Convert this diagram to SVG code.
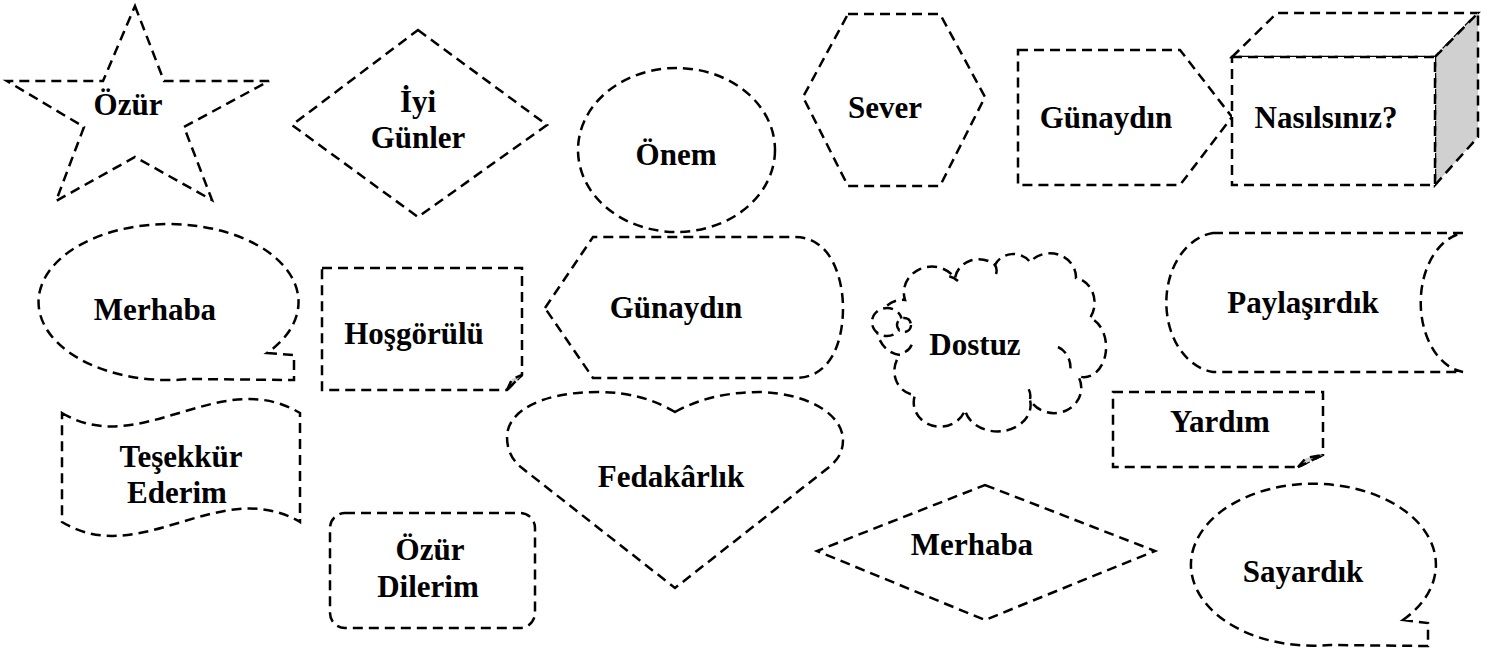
<svg xmlns="http://www.w3.org/2000/svg" width="1490" height="654" viewBox="0 0 1490 654">
<style>
.s{fill:#fff;stroke:#000;stroke-width:2.5;stroke-dasharray:10 6;stroke-linejoin:miter}
.n{fill:none;stroke:#000;stroke-width:2.5;stroke-dasharray:10 6}
.g{fill:#d0d0d0;stroke:#000;stroke-width:2.5;stroke-dasharray:10 6}
.t{font-family:"Liberation Serif","Times New Roman",serif;font-weight:bold;font-size:31px;fill:#000;text-anchor:middle}
</style>
<rect width="1490" height="654" fill="#fff"/>
<g id="connectors"></g>
<g id="n-ozur-star">
<polygon class="s" points="135,6 164,81 269,81 184,127 212,200 135,157 56,201 84,127 7,81 103,81"/>
<text class="t" x="128" y="115">Özür</text>
</g>
<g id="n-iyi-gunler">
<polygon class="s" points="418,30 547,125 418,217 292,125"/>
<text class="t" x="418" y="112">İyi</text>
<text class="t" x="418" y="148">Günler</text>
</g>
<g id="n-onem">
<ellipse class="s" cx="676.5" cy="150" rx="98.5" ry="82"/>
<text class="t" x="676" y="165">Önem</text>
</g>
<g id="n-sever">
<polygon class="s" points="848,14 940,14 985,97 940,186 848,186 803,97"/>
<text class="t" x="885" y="118">Sever</text>
</g>
<g id="n-gunaydin-1">
<polygon class="s" points="1018,50 1180,50 1232,117 1180,185 1018,185"/>
<text class="t" x="1106" y="128">Günaydın</text>
</g>
<g id="n-nasilsiniz">
<polygon class="s" points="1232,57 1277,13 1478,13 1435,57"/>
<polygon class="g" points="1435,57 1478,13 1478,137 1435,185"/>
<rect class="s" x="1232" y="57" width="203" height="128"/>
<text class="t" x="1326" y="128">Nasılsınız?</text>
</g>
<g id="n-merhaba-1">
<path class="s" d="M267 353 L294 355 L294 380 L190 379 A130 78 0 1 1 267 353 Z"/>
<text class="t" x="155" y="320">Merhaba</text>
</g>
<g id="n-hosgorulu">
<path class="s" d="M322 268 H522 V375 L507 390 H322 Z"/>
<polygon class="g" points="507,390 512,379 522,375"/>
<text class="t" x="414" y="344">Hoşgörülü</text>
</g>
<g id="n-gunaydin-2">
<path class="s" d="M545 308 L593 237 H795 C832 237 843 280 843 308 C843 340 832 378 795 378 H593 Z"/>
<text class="t" x="676" y="318">Günaydın</text>
</g>
<g id="n-dostuz">
<path class="s" d="M900 355 A24 26 0 0 1 905 300 A28 26 0 0 1 955 278 A24 22 0 0 1 995 265 A20 18 0 0 1 1030 262 A26 24 0 0 1 1076 278 A22 25 0 0 1 1090 318 A22 30 0 0 1 1078 376 A26 24 0 0 1 1030 400 A30 24 0 0 1 965 410 A26 24 0 0 1 915 395 A22 24 0 0 1 900 355 Z"/>
<path class="n" d="M1058 347 A20 22 0 0 1 1070 372 M1030 399 A18 16 0 0 0 1028 388 M905 352 A14 14 0 0 0 912 344 M958 281 A20 18 0 0 0 948 276 M995 265 A14 12 0 0 1 996 274"/>
<ellipse class="s" cx="887" cy="322" rx="15" ry="14"/>
<ellipse class="s" cx="904" cy="325" rx="7" ry="7"/>
<text class="t" x="975" y="355">Dostuz</text>
</g>
<g id="n-paylasirdik">
<path class="s" d="M1213 233 H1463 A48 70 0 0 0 1463 372 H1213 A53 70 0 0 1 1213 233 Z"/>
<text class="t" x="1303" y="313">Paylaşırdık</text>
</g>
<g id="n-yardim">
<path class="s" d="M1113 392 H1323 V455 L1298 467 H1113 Z"/>
<polygon class="g" points="1298,467 1306,458 1323,455"/>
<text class="t" x="1220" y="432">Yardım</text>
</g>
<g id="n-tesekkur">
<path class="s" d="M62 413 C140 460 220 365 300 413 V522 C220 475 140 570 62 522 Z"/>
<text class="t" x="181" y="467">Teşekkür</text>
<text class="t" x="177" y="503">Ederim</text>
</g>
<g id="n-fedakarlik">
<path class="s" d="M675 412 C700 398 730 392 760 392 C815 394 843 418 843 440 C843 452 838 460 828 468 L675 588 L522 468 C512 460 507 450 507 437 C507 412 540 392 598 392 C630 392 655 400 675 412 Z"/>
<text class="t" x="671" y="487">Fedakârlık</text>
</g>
<g id="n-ozur-dilerim">
<rect class="s" x="330" y="513" width="205" height="115" rx="15" ry="15"/>
<text class="t" x="430" y="560">Özür</text>
<text class="t" x="428" y="597">Dilerim</text>
</g>
<g id="n-merhaba-2">
<polygon class="s" points="985,485 1155,551 985,620 817,551"/>
<text class="t" x="972" y="555">Merhaba</text>
</g>
<g id="n-sayardik">
<path class="s" d="M1403 620 L1428 623 L1428 646 L1330 645 A122.5 81 0 1 1 1403 620 Z"/>
<text class="t" x="1303" y="582">Sayardık</text>
</g>
</svg>
